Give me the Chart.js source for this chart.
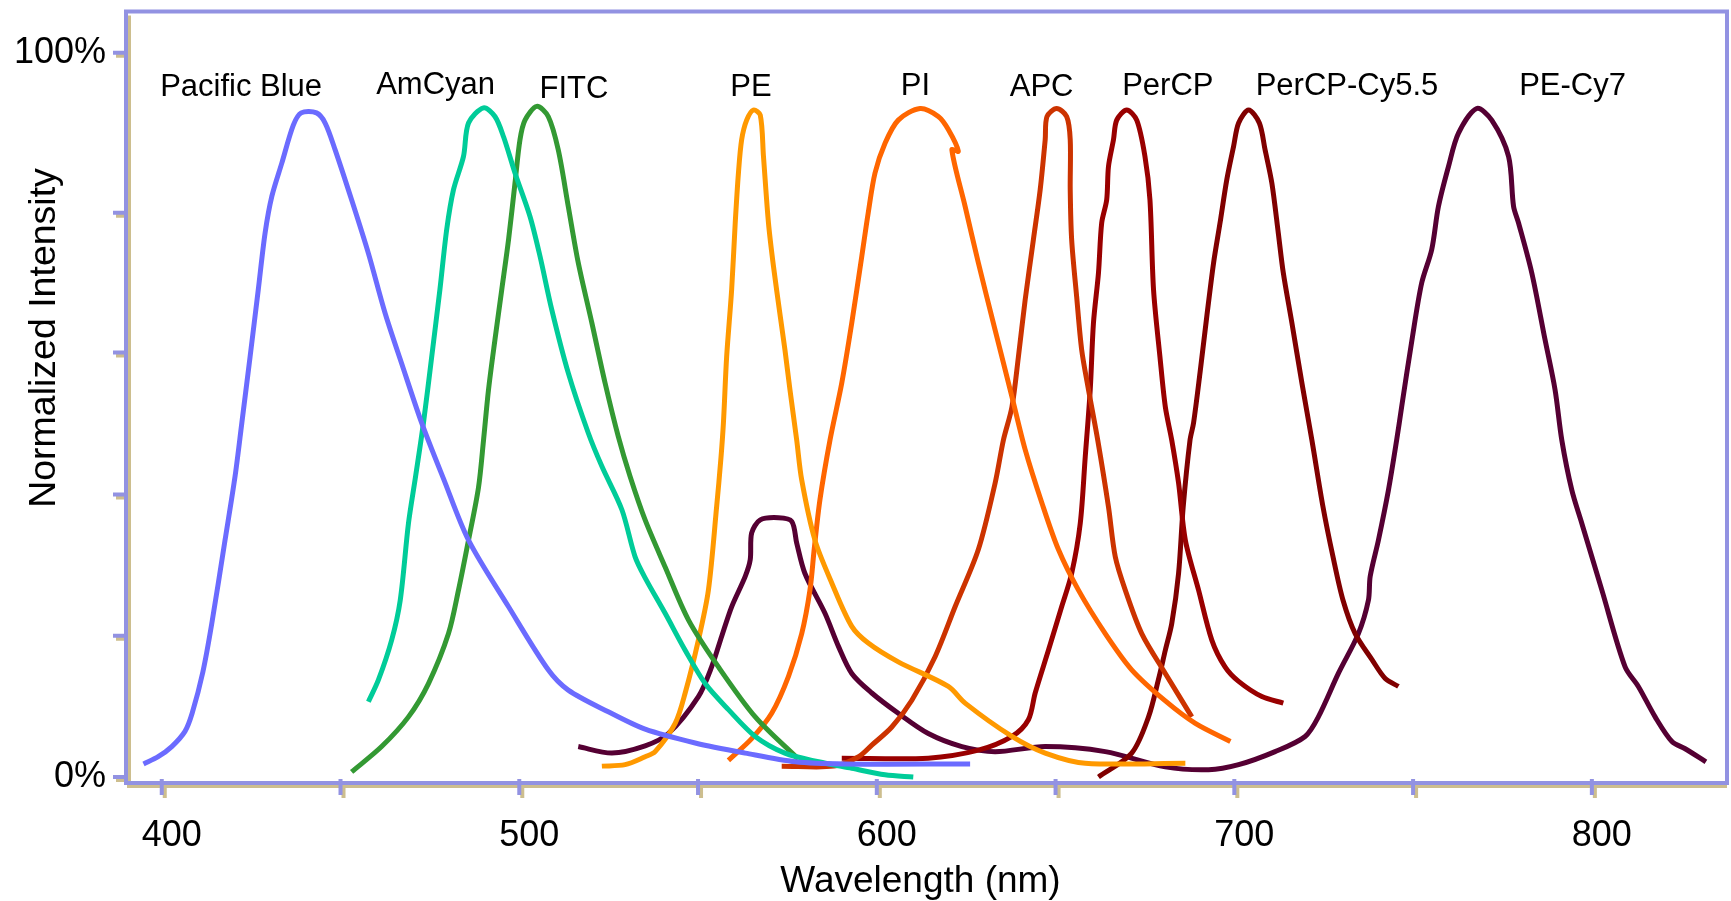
<!DOCTYPE html>
<html>
<head>
<meta charset="utf-8">
<title>Emission spectra</title>
<script src="https://cdn.jsdelivr.net/npm/chart.js@4.4.1/dist/chart.umd.min.js"></script>
<style>
  html, body { margin: 0; padding: 0; background: #fff; }
  #wrap { width: 1731px; height: 901px; }
</style>
</head>
<body>
<div id="wrap"><canvas id="spectra" width="1731" height="901"></canvas></div>
<script>
// dye names, in the order they are labelled left to right
const dyeNames = ['Pacific Blue', 'AmCyan', 'FITC', 'PE', 'PI', 'APC', 'PerCP', 'PerCP-Cy5.5', 'PE-Cy7'];

// emission curves: [wavelength nm, normalized intensity %]
const pacificBlue = [[394.9,1.8],[399.0,2.8],[402.8,4.2],[406.5,6.3],[408.5,8.8],[411.5,14.5],[414.0,21.2],[417.7,32.7],[420.5,41.5],[422.4,48.9],[424.7,58.0],[427.0,67.3],[428.9,75.1],[430.8,80.2],[433.6,84.8],[436.8,90.0],[439.0,91.7],[443.3,91.7],[445.7,90.3],[448.5,86.6],[453.1,79.7],[457.8,72.3],[462.5,64.0],[467.1,57.1],[472.7,48.9],[478.8,41.2],[485.8,32.7],[497.0,23.5],[508.1,14.8],[513.7,12.0],[524.9,9.0],[535.2,6.6],[549.2,4.7],[563.2,3.3],[577.2,2.1],[591.1,1.8],[626.1,1.8]];
const amCyan = [[457.8,10.4],[460.6,13.4],[464.3,18.9],[466.7,24.4],[469.0,35.0],[470.9,41.2],[473.2,48.9],[475.5,58.0],[477.8,67.3],[479.7,75.6],[481.6,81.1],[484.4,85.7],[485.8,90.3],[490.0,92.4],[493.2,91.2],[495.6,88.4],[498.8,83.4],[503.0,77.4],[505.8,71.9],[509.1,64.5],[513.7,55.8],[519.3,47.5],[523.1,42.9],[528.7,36.9],[532.4,30.4],[535.2,27.5],[540.8,22.6],[546.4,17.5],[552.0,12.9],[558.5,9.3],[566.0,5.6],[574.3,3.3],[583.7,2.1],[593.0,1.2],[602.3,0.3],[610.2,0.0]];
const fitc = [[453.1,0.7],[461.5,4.2],[469.0,8.3],[474.6,12.9],[480.2,19.8],[483.0,25.8],[485.8,32.7],[488.6,40.0],[490.0,46.5],[491.4,53.5],[493.2,60.4],[495.1,67.3],[497.0,74.2],[498.8,82.0],[500.2,88.0],[501.6,90.7],[504.9,92.6],[508.1,91.2],[510.9,86.6],[513.7,78.8],[516.5,71.0],[520.3,62.7],[524.0,54.4],[527.7,47.0],[531.0,41.5],[535.2,35.5],[540.8,29.0],[547.3,21.7],[555.7,15.2],[566.0,8.3],[578.0,2.5]];
const pe = [[523.1,1.5],[529.6,1.7],[535.2,2.8],[538.0,3.5],[543.6,7.4],[546.4,11.6],[550.1,18.9],[552.9,25.8],[555.2,37.3],[556.4,44.0],[557.1,48.9],[558.0,58.0],[559.4,67.3],[560.4,76.5],[561.3,83.4],[562.2,88.0],[563.6,90.7],[565.5,92.1],[567.4,91.4],[568.3,85.7],[569.7,76.5],[571.1,70.5],[573.0,63.6],[574.3,59.0],[575.7,53.5],[577.6,46.5],[579.0,41.0],[582.7,32.7],[587.4,26.8],[593.0,20.8],[597.6,18.5],[606.0,15.9],[620.0,12.5],[624.7,10.2],[637.8,5.6],[647.1,3.3],[658.3,1.9],[686.3,1.9]];
const pi = [[558.5,2.3],[565.0,5.3],[570.6,8.8],[575.3,13.9],[579.0,19.8],[581.3,25.8],[582.5,31.5],[584.1,38.3],[586.9,46.5],[590.2,54.4],[593.0,62.7],[595.8,71.9],[597.6,77.9],[599.5,83.4],[602.3,87.5],[606.0,90.7],[612.1,92.3],[617.2,91.2],[620.0,89.4],[622.8,86.4],[621.0,86.6],[624.7,78.8],[628.4,71.0],[633.1,61.7],[637.8,52.5],[641.5,45.2],[646.2,37.8],[650.8,31.4],[656.4,25.8],[663.9,19.8],[671.3,14.8],[680.7,10.5],[689.1,7.4],[698.9,4.9]];
const apc = [[573.4,1.5],[588.0,1.5],[594.9,2.8],[598.6,4.4],[604.2,6.9],[609.8,10.6],[616.3,16.6],[621.9,23.5],[628.4,31.4],[633.1,40.6],[635.4,46.5],[637.8,51.1],[639.6,58.0],[641.5,65.9],[643.8,74.2],[645.7,81.1],[647.1,88.0],[647.6,91.2],[650.3,92.3],[653.1,91.2],[654.1,88.0],[654.1,81.1],[654.5,74.2],[655.9,66.3],[657.3,59.0],[659.2,53.5],[661.8,46.5],[664.8,37.3],[666.7,30.4],[669.5,25.8],[674.1,19.8],[680.7,14.3],[688.1,8.3]];
const perCP = [[590.2,2.6],[614.4,2.6],[628.4,3.7],[637.8,5.6],[642.4,7.9],[644.3,11.6],[648.0,17.5],[651.7,23.5],[654.5,28.1],[656.9,35.0],[658.3,44.2],[659.7,53.5],[660.6,62.7],[662.0,69.6],[662.9,76.5],[664.3,79.7],[664.8,84.3],[666.2,88.0],[667.1,90.7],[669.9,92.1],[672.7,90.7],[675.0,85.7],[676.4,79.7],[677.4,67.3],[679.2,58.0],[680.7,51.1],[682.5,46.5],[684.4,40.6],[686.3,32.7],[690.0,25.8],[693.7,18.9],[697.4,15.2],[701.2,13.2],[707.7,11.1],[713.7,10.2]];
const perCPCy55 = [[662.0,0.0],[671.3,3.3],[676.0,8.3],[678.8,13.5],[680.7,17.5],[682.5,21.2],[684.4,28.1],[685.7,37.3],[687.6,46.5],[688.6,48.9],[690.4,55.8],[692.3,63.6],[694.2,71.0],[696.0,76.5],[697.9,82.5],[699.8,87.1],[701.2,90.3],[704.0,92.1],[707.0,90.3],[708.6,86.6],[710.5,82.0],[712.3,75.1],[713.7,69.6],[716.1,62.7],[718.9,54.4],[721.7,46.5],[724.8,37.3],[727.6,30.4],[730.4,24.4],[733.8,19.8],[738.5,16.2],[742.2,13.6],[745.9,12.5]];
const peCy7 = [[516.5,4.2],[525.9,3.3],[535.2,4.3],[541.7,6.0],[550.1,11.1],[553.8,15.2],[556.6,19.4],[559.4,23.5],[563.2,27.7],[564.6,30.0],[565.0,33.7],[567.4,35.5],[572.5,35.8],[576.2,35.3],[577.6,32.3],[579.9,28.1],[585.5,22.6],[589.3,18.0],[593.0,14.3],[598.6,11.6],[606.0,8.8],[614.4,6.0],[623.8,4.2],[633.1,3.5],[647.1,4.2],[663.9,3.5],[680.7,1.4],[692.8,1.0],[701.2,1.7],[711.4,3.5],[719.8,5.6],[723.5,8.3],[729.1,14.3],[734.7,19.8],[737.5,24.4],[738.0,27.7],[740.3,32.7],[743.1,39.6],[745.4,46.5],[746.8,51.1],[749.7,60.4],[752.4,68.2],[755.2,72.8],[757.1,78.8],[759.9,84.3],[762.7,88.9],[767.8,92.3],[772.0,90.7],[776.7,85.7],[778.1,78.8],[779.5,76.5],[783.2,69.6],[786.9,60.4],[789.7,53.5],[791.6,46.5],[794.4,39.6],[797.2,35.0],[802.8,25.8],[809.3,15.2],[813.0,12.5],[817.7,8.3],[822.4,4.9],[826.1,3.9],[831.9,2.1]];

// axis ticks
const xTicks = [400, 450, 500, 550, 600, 650, 700, 750, 800];
const xTickLabels = ['400', '', '500', '', '600', '', '700', '', '800'];
const yTicks = [0, 19.5, 39, 58.6, 77.9, 100];
const yTickLabels = ['0%', '', '', '', '', '100%'];

// where each dye name sits, in data units [wavelength, intensity]
const labelAt = [[422.2,94.0],[476.6,94.3],[515.3,93.8],[564.8,94.1],[610.8,94.2],[646.1,94.1],[681.4,94.2],[731.5,94.2],[794.6,94.2]];

const FONT = '"Liberation Sans", Arial, Helvetica, sans-serif';
const AXIS_COLOR = '#9292E2';
const SHADOW_COLOR = '#CDBE8E';
const lineColors = ['#6B6BFF', '#00CC99', '#339933', '#FF9900', '#FF6600', '#CC3300', '#990000', '#800000', '#550033'];

const series = [pacificBlue, amCyan, fitc, pe, pi, apc, perCP, perCPCy55, peCy7];

const toPoints = arr => arr.map(([x, y]) => ({ x, y }));

const frame = {
    id: 'frame',
    beforeDatasetsDraw(chart) {
        const { ctx, chartArea: a, scales: { x, y } } = chart;
        const strokeFrame = (dx, dy, color, boxToo) => {
            ctx.strokeStyle = color;
            ctx.lineWidth = 4;
            ctx.beginPath();
            if (boxToo) {
                ctx.rect(a.left, a.top, a.right - a.left, a.bottom - a.top);
            } else {
                ctx.moveTo(a.left + dx, a.top + 4);
                ctx.lineTo(a.left + dx, a.bottom + dy);
                ctx.lineTo(a.right, a.bottom + dy);
            }
            xTicks.forEach(v => {
                const px = x.getPixelForValue(v) + dx;
                ctx.moveTo(px, a.bottom - 4 + dy);
                ctx.lineTo(px, a.bottom + 12 + dy);
            });
            yTicks.forEach(v => {
                const py = y.getPixelForValue(v) + dy;
                ctx.moveTo(a.left - 13 + dx, py);
                ctx.lineTo(a.left + dx, py);
            });
            ctx.stroke();
        };
        ctx.save();
        strokeFrame(3, 3, SHADOW_COLOR, false);
        strokeFrame(0, 0, AXIS_COLOR, true);
        ctx.restore();
    },
    afterDraw(chart) {
        const { ctx, chartArea: a, scales: { x, y } } = chart;
        ctx.save();
        ctx.fillStyle = '#000';
        ctx.textAlign = 'center';
        ctx.textBaseline = 'alphabetic';
        ctx.font = '31px ' + FONT;
        dyeNames.forEach((name, i) => {
            ctx.fillText(name, x.getPixelForValue(labelAt[i][0]), y.getPixelForValue(labelAt[i][1]));
        });
        ctx.font = '37px ' + FONT;
        ctx.fillText('Wavelength (nm)', (a.left + a.right) / 2 - 6, 892);
        ctx.font = '37.5px ' + FONT;
        ctx.translate(55, 338);
        ctx.rotate(-Math.PI / 2);
        ctx.fillText('Normalized Intensity', 0, 0);
        ctx.restore();
    }
};

new Chart(document.getElementById('spectra'), {
    type: 'line',
    data: {
        datasets: series.map((s, i) => ({
            label: dyeNames[i],
            data: toPoints(s),
            borderColor: lineColors[i],
            borderWidth: 5,
            pointRadius: 0,
            tension: 0.3,
            fill: false
        }))
    },
    options: {
        responsive: false,
        animation: false,
        layout: { padding: { top: 11.5, right: 4, left: 0, bottom: 0 } },
        plugins: { legend: { display: false }, tooltip: { enabled: false } },
        scales: {
            x: {
                type: 'linear',
                min: 390,
                max: 837.8,
                afterBuildTicks: s => { s.ticks = xTicks.map(v => ({ value: v })); },
                afterFit: s => { s.height = 118; s.paddingLeft = 0; s.paddingRight = 0; },
                grid: { display: false },
                border: { display: false },
                ticks: {
                    autoSkip: false,
                    maxRotation: 0,
                    padding: 23,
                    labelOffset: 10,
                    color: '#000',
                    font: { family: FONT, size: 36 },
                    callback: (v, i) => xTickLabels[i]
                }
            },
            y: {
                type: 'linear',
                min: -0.83,
                max: 105.7,
                afterBuildTicks: s => { s.ticks = yTicks.map(v => ({ value: v })); },
                afterFit: s => { s.width = 126; s.paddingTop = 0; s.paddingBottom = 0; },
                grid: { display: false },
                border: { display: false },
                ticks: {
                    autoSkip: false,
                    padding: 12,
                    color: '#000',
                    font: { family: FONT, size: 36 },
                    callback: (v, i) => yTickLabels[i]
                }
            }
        }
    },
    plugins: [frame]
});
</script>
</body>
</html>
